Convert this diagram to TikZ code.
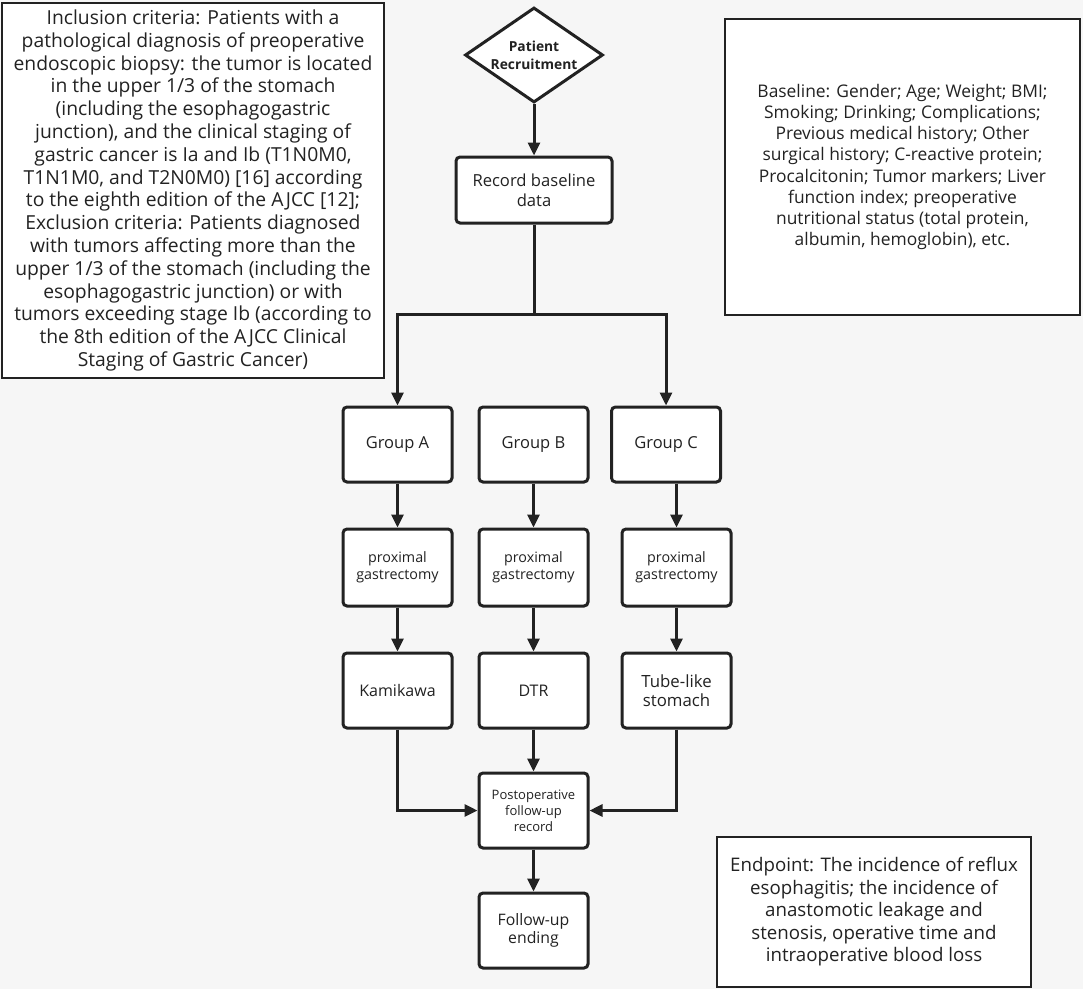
\documentclass[tikz,border=0pt]{standalone}
\usepackage{fontspec}
\setmainfont{Open Sans}
\usetikzlibrary{arrows.meta,shapes.geometric}
\definecolor{bg}{HTML}{F6F6F6}
\definecolor{ink}{HTML}{222222}
\begin{document}
\begin{tikzpicture}[x=1pt,y=-1pt,
  flow/.style={draw=ink, line width=3pt, fill=white, rounded corners=4pt, minimum width=109pt, minimum height=75pt, inner sep=2pt, align=center, text=ink},
  note/.style={draw=ink, line width=2.4pt, fill=white, align=center, text=ink, inner sep=0pt, font=\fontsize{17}{22.6}\selectfont},
  arr/.style={draw=ink, line width=3pt, -{Triangle[length=13pt,width=12pt]}},
  ln/.style={draw=ink, line width=3pt}]
\fill[bg] (0,0) rectangle (1083,989);
\useasboundingbox (0,0) rectangle (1083,989);

% notes
\node[note, minimum width=382pt, minimum height=375pt, font=\fontsize{19.3}{22.8}\selectfont] (incl) at (193,190.5)
 {Inclusion criteria: Patients with a\\
  pathological diagnosis of preoperative\\
  endoscopic biopsy: the tumor is located\\
  in the upper 1/3 of the stomach\\
  (including the esophagogastric\\
  junction), and the clinical staging of\\
  gastric cancer is Ia and Ib (T1N0M0,\\
  T1N1M0, and T2N0M0) [16] according\\
  to the eighth edition of the AJCC [12];\\
  Exclusion criteria: Patients diagnosed\\
  with tumors affecting more than the\\
  upper 1/3 of the stomach (including the\\
  esophagogastric junction) or with\\
  tumors exceeding stage Ib (according to\\
  the 8th edition of the AJCC Clinical\\
  Staging of Gastric Cancer)};

\node[note, minimum width=355pt, minimum height=296pt, font=\fontsize{17.4}{21.2}\selectfont] (base) at (902.5,167)
 {Baseline: Gender; Age; Weight; BMI;\\
  Smoking; Drinking; Complications;\\
  Previous medical history; Other\\
  surgical history; C-reactive protein;\\
  Procalcitonin; Tumor markers; Liver\\
  function index; preoperative\\
  nutritional status (total protein,\\
  albumin, hemoglobin), etc.};

\node[note, minimum width=314pt, minimum height=150pt, font=\fontsize{18.7}{22.5}\selectfont] (endp) at (874,912)
 {Endpoint: The incidence of reflux\\
  esophagitis; the incidence of\\
  anastomotic leakage and\\
  stenosis, operative time and\\
  intraoperative blood loss};

% flow
\node[draw=ink, line width=3pt, fill=white, shape=diamond, aspect=1.45, minimum width=138pt, minimum height=95pt, inner sep=0pt, align=center, text=ink, font=\fontsize{13.8}{18}\selectfont\bfseries] (pr) at (534,55) {Patient\\Recruitment};

\node[flow, minimum width=156pt, minimum height=66pt, font=\fontsize{16.6}{20}\selectfont] (rec) at (534,190) {Record baseline\\data};

\node[flow, font=\fontsize{16.5}{20}\selectfont] (gA) at (397.5,444.5) {Group A};
\node[flow, font=\fontsize{16.5}{20}\selectfont] (gB) at (533.5,444.5) {Group B};
\node[flow, font=\fontsize{16.5}{20}\selectfont] (gC) at (666,444.5) {Group C};

\node[flow, minimum height=77pt, font=\fontsize{14.3}{17.3}\selectfont] (pA) at (397.5,567.5) {proximal\\gastrectomy};
\node[flow, minimum height=77pt, font=\fontsize{14.3}{17.3}\selectfont] (pB) at (533.5,567.5) {proximal\\gastrectomy};
\node[flow, minimum height=77pt, font=\fontsize{14.3}{17.3}\selectfont] (pC) at (676.5,567.5) {proximal\\gastrectomy};

\node[flow, font=\fontsize{16}{19.3}\selectfont] (kam) at (397.5,690.5) {Kamikawa};
\node[flow, font=\fontsize{16}{19.3}\selectfont] (dtr) at (533.5,690.5) {DTR};
\node[flow, font=\fontsize{16.8}{19.3}\selectfont] (tube) at (676.5,690.5) {Tube-like\\stomach};

\node[flow, font=\fontsize{13}{16}\selectfont] (post) at (533.5,810.5) {Postoperative\\follow-up\\record};
\node[flow, font=\fontsize{15.8}{17.7}\selectfont] (fend) at (533.5,930.5) {Follow-up\\ending};

% connectors
\coordinate (split) at (534,314);
\coordinate (splitA) at (397.5,314);
\coordinate (splitC) at (666,314);
\draw[arr] (pr) -- (rec);
\draw[ln] (rec) -- (split);
\draw[ln, line cap=rect] (splitA) -- (splitC);
\draw[arr] (splitA) -- (gA);
\draw[arr] (splitC) -- (gC);
\draw[arr] (gA) -- (pA);
\draw[arr] (gB) -- (pB);
\draw[arr] (gC.south -| pC) -- (pC);
\draw[arr] (pA) -- (kam);
\draw[arr] (pB) -- (dtr);
\draw[arr] (pC) -- (tube);
\draw[arr] (kam.south) |- (post.west);
\draw[arr] (dtr) -- (post);
\draw[arr] (tube.south) |- (post.east);
\draw[arr] (post) -- (fend);
\end{tikzpicture}
\end{document}
